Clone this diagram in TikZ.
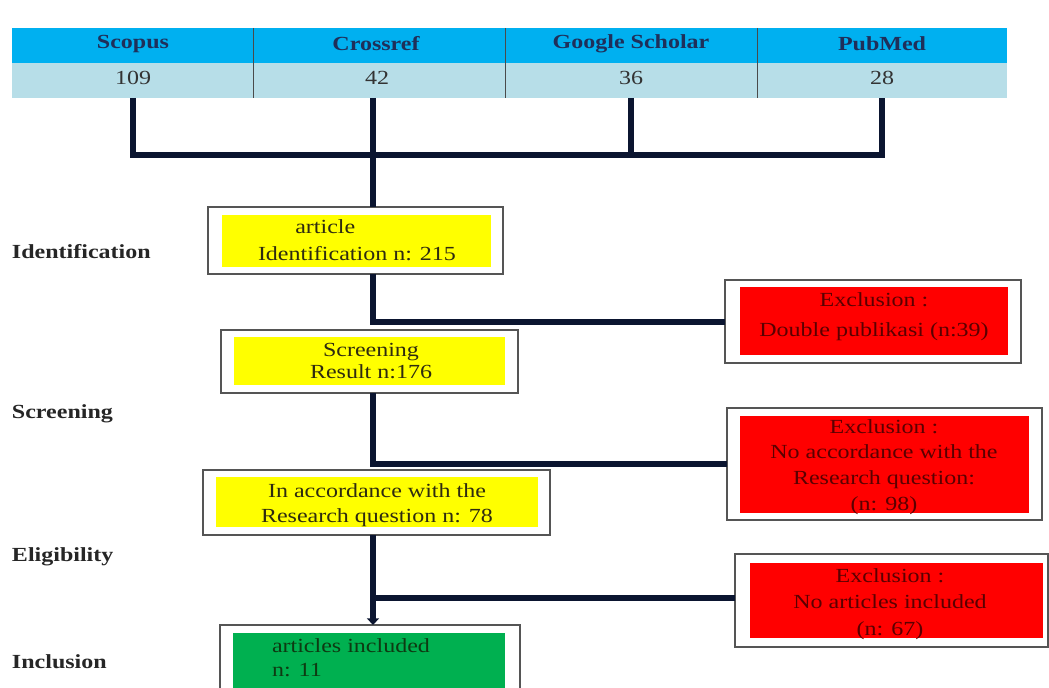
\documentclass[tikz,border=0pt]{standalone}
\usepackage{fontspec}
\setmainfont{Liberation Serif}[FakeStretch=1.2]
\usetikzlibrary{arrows.meta,fit}
\definecolor{hdrblue}{HTML}{00B0F0}
\definecolor{datblue}{HTML}{B7DEE8}
\definecolor{navy}{HTML}{1F2F5A}
\definecolor{datink}{HTML}{333333}
\definecolor{ink}{HTML}{0B1530}
\definecolor{framegray}{HTML}{555555}
\definecolor{sepgray}{HTML}{4A4A4A}
\definecolor{boxyellow}{HTML}{FFFF00}
\definecolor{yelink}{HTML}{2E2B10}
\definecolor{boxred}{HTML}{FF0000}
\definecolor{redink}{HTML}{5A0000}
\definecolor{boxgreen}{HTML}{00B050}
\definecolor{grnink}{HTML}{0E3A12}
\begin{document}
\begin{tikzpicture}[x=0.75pt,y=-0.75pt,
 every node/.style={font=\fontsize{15}{18}\selectfont, inner sep=0pt, outer sep=0pt},
 hdrcell/.style={fill=hdrblue},
 datcell/.style={fill=datblue},
 hdrtext/.style={font=\fontsize{15}{18}\selectfont\bfseries, text=navy},
 dattext/.style={text=datink},
 outerbox/.style={draw=framegray, line width=0.9pt, fill=white},
 yelbox/.style={fill=boxyellow},
 redbox/.style={fill=boxred},
 grnbox/.style={fill=boxgreen},
 yeltext/.style={text=yelink, align=center},
 redtext/.style={text=redink, align=center},
 conn/.style={draw=ink, line width=4.5pt},
 phase/.style={anchor=west, font=\fontsize{15}{18}\selectfont\bfseries, text=black!85}
]
\useasboundingbox (0,0) rectangle (1049,688);
\clip (0,0) rectangle (1049,688);

% table
\node[hdrcell, fit={(12,28)(253,63)}] (s1) {};
\node[hdrcell, fit={(253,28)(505,63)}] (s2) {};
\node[hdrcell, fit={(505,28)(757,63)}] (s3) {};
\node[hdrcell, fit={(757,28)(1007,63)}] (s4) {};
\node[datcell, fit={(12,63)(253,98)}] (v1) {};
\node[datcell, fit={(253,63)(505,98)}] (v2) {};
\node[datcell, fit={(505,63)(757,98)}] (v3) {};
\node[datcell, fit={(757,63)(1007,98)}] (v4) {};
\node[hdrtext] (hs1) at (133,44) {Scopus};
\node[hdrtext] (hs2) at (376,44) {Crossref};
\node[hdrtext] (hs3) at (631,44) {Google Scholar};
\node[hdrtext] (hs4) at (882,44) {PubMed};
\node[dattext] (hv1) at (133,78) {109};
\node[dattext] (hv2) at (377,78) {42};
\node[dattext] (hv3) at (631,78) {36};
\node[dattext] (hv4) at (882,78) {28};
\draw[sepgray, line width=0.6pt] (s1.north east) -- (v1.south east);
\draw[sepgray, line width=0.6pt] (s2.north east) -- (v2.south east);
\draw[sepgray, line width=0.6pt] (s3.north east) -- (v3.south east);

% phase labels
\node[phase] (pid) at (12,252) {Identification};
\node[phase] (pscr) at (12,414) {Screening};
\node[phase] (pel) at (12,557) {Eligibility};
\node[phase] (pinc) at (12,662) {Inclusion};

% main boxes
\node[outerbox, fit={(208,207)(503,274)}] (b1) {};
\node[yelbox, fit={(222,215)(491,267)}] (y1) {};
\node[anchor=west, align=left, text=yelink, font=\fontsize{15}{20}\selectfont] (t1) at (258,240) {\hspace*{28pt}article\\Identification n: 215};

\node[outerbox, fit={(221,330)(518,393)}] (b2) {};
\node[yelbox, fit={(234,337)(505,385)}] (y2) {};
\node[yeltext, font=\fontsize{15}{16.5}\selectfont] (t2) at (371,361) {Screening\\Result n:176};

\node[outerbox, fit={(203,470)(550,535)}] (b3) {};
\node[yelbox, fit={(216,477)(538,527)}] (y3) {};
\node[yeltext, font=\fontsize{15}{19}\selectfont] (t3) at (377,505) {In accordance with the\\Research question n: 78};

\node[outerbox, fit={(220,625)(520,700)}] (b4) {};
\node[grnbox, fit={(233,633)(505,700)}] (g4) {};
\node[anchor=west, align=left, text=grnink] (t4) at (272,658) {articles included\\n: 11};

% exclusion boxes
\node[outerbox, fit={(725,280)(1021,363)}] (e1) {};
\node[redbox, fit={(740,287)(1008,355)}] (r1) {};
\node[redtext, font=\fontsize{15}{22.5}\selectfont] (rt1) at (874,317) {Exclusion :\\Double publikasi (n:39)};

\node[outerbox, fit={(727,408)(1042,520)}] (e2) {};
\node[redbox, fit={(740,416)(1029,513)}] (r2) {};
\node[redtext, font=\fontsize{15}{19.3}\selectfont] (rt2) at (884,467) {Exclusion :\\No accordance with the\\Research question:\\(n: 98)};

\node[outerbox, fit={(735,554)(1048,647)}] (e3) {};
\node[redbox, fit={(750,563)(1043,638)}] (r3) {};
\node[redtext, font=\fontsize{15}{20}\selectfont] (rt3) at (890,604) {Exclusion :\\No articles included\\(n: 67)};

% connectors
\coordinate (tx) at (373,155);
\draw[conn] (v1.south) |- (v4.south |- tx) -- (v4.south);
\draw[conn] (v3.south) -- (v3.south |- tx);
\draw[conn] (v2.south -| tx) -- (b1.north -| tx);
\draw[conn] (b1.south -| tx) |- (e1.west);
\draw[conn] (b2.south -| tx) |- (e2.west);
\draw[conn] (b3.south -| tx) |- ([yshift=2pt]e3.west);
\draw[conn, -{Triangle[width=9pt,length=5pt]}] (b3.south -| tx) -- (b4.north -| tx);
\end{tikzpicture}
\end{document}
